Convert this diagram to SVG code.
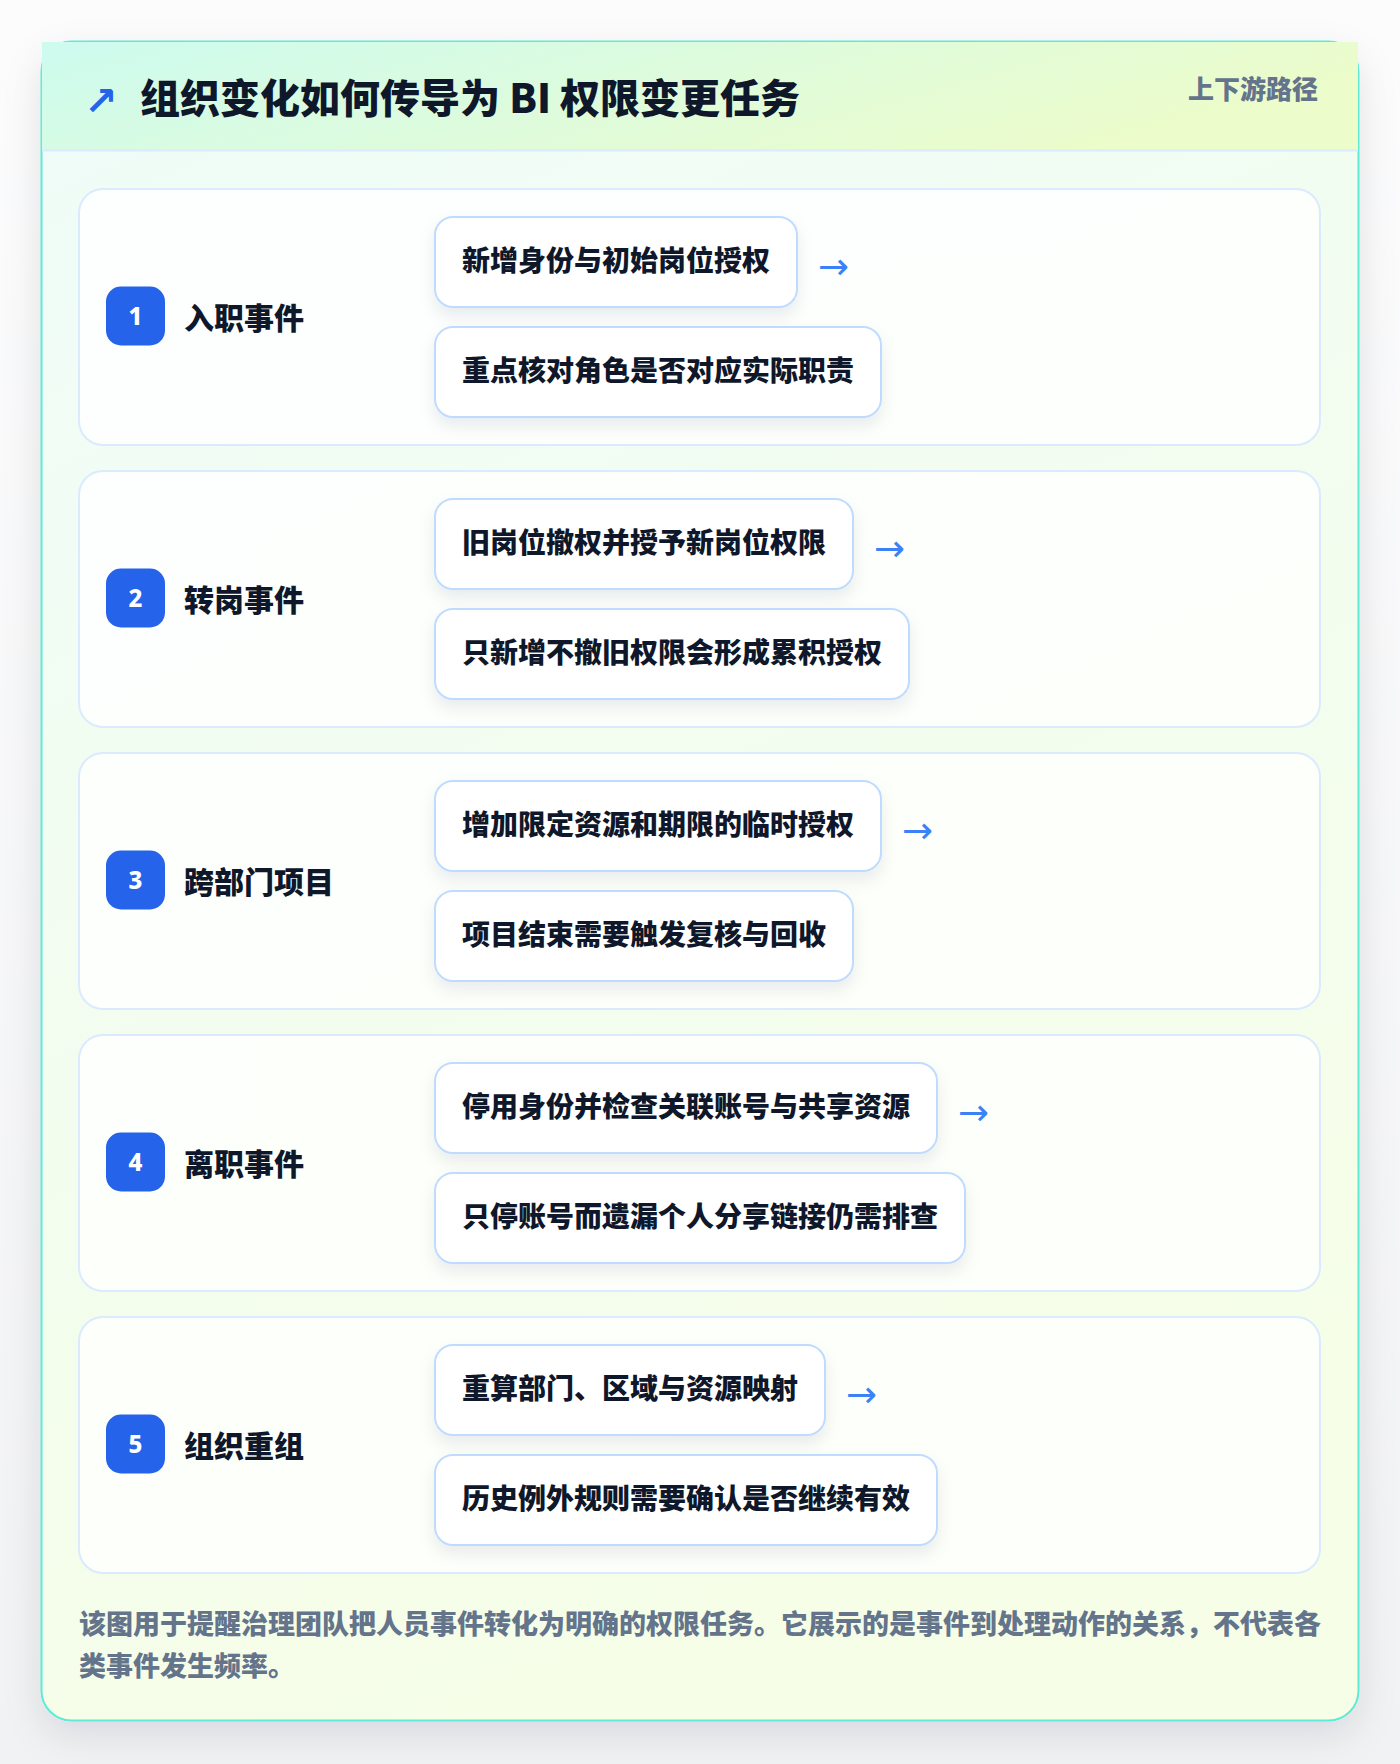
<svg xmlns="http://www.w3.org/2000/svg" width="1400" height="1764" viewBox="0 0 1400 1764">
<defs>
<linearGradient id="pageBg" x1="0" y1="0" x2="0" y2="1">
<stop offset="0" stop-color="#fcfcfd"/>
<stop offset="1" stop-color="#f1f2f4"/>
</linearGradient>
<linearGradient id="bodyBg" x1="0" y1="0" x2="0.35" y2="1">
<stop offset="0" stop-color="#effcf8"/>
<stop offset="1" stop-color="#f6fee8"/>
</linearGradient>
<linearGradient id="headBg" x1="0" y1="0" x2="1" y2="0.3">
<stop offset="0" stop-color="#cdfbef"/>
<stop offset="1" stop-color="#ecfccb"/>
</linearGradient>
<filter id="cardShadow" x="-10%" y="-10%" width="120%" height="120%">
<feDropShadow dx="0" dy="14" stdDeviation="18" flood-color="#0f172a" flood-opacity="0.10"/>
</filter>
<filter id="boxShadow" x="-20%" y="-30%" width="140%" height="180%">
<feDropShadow dx="0" dy="8" stdDeviation="8" flood-color="#1e293b" flood-opacity="0.08"/>
</filter>
<style>
.row{fill:#ffffff;fill-opacity:0.78;stroke:#dbeafe;stroke-width:2}
.box{fill:#ffffff;stroke:#bfdbfe;stroke-width:2}
.badge{fill:#2563eb}
.num{font-family:"Noto Sans","Liberation Sans",sans-serif;font-weight:800;font-size:24px;fill:#ffffff;text-anchor:middle}
.lbl{font-family:"Noto Sans CJK SC","Noto Sans",sans-serif;font-weight:800;font-size:30px;fill:#0f172a}
.btxt{font-family:"Noto Sans CJK SC","Noto Sans",sans-serif;font-weight:800;font-size:28px;fill:#0f172a}
.arr{font-family:"DejaVu Sans",sans-serif;font-size:37px;fill:#3b82f6}
.title{font-family:"Noto Sans CJK SC","Noto Sans",sans-serif;font-weight:900;font-size:40px;fill:#0f172a}
.tag{font-family:"Noto Sans CJK SC","Noto Sans",sans-serif;font-weight:800;font-size:26px;fill:#64748b;text-anchor:end}
.foot{font-family:"Noto Sans CJK SC","Noto Sans",sans-serif;font-weight:800;font-size:27px;fill:#64748b}
</style>
</defs>
<rect x="0" y="0" width="1400" height="1764" fill="url(#pageBg)"/>
<g id="card">
<rect x="41.5" y="41.5" width="1317" height="1679" rx="30" fill="url(#bodyBg)" stroke="#5eead4" stroke-width="2" filter="url(#cardShadow)"/>
<rect x="42" y="42" width="1316" height="108" fill="url(#headBg)"/>
<line x1="42" y1="150.5" x2="1358" y2="150.5" stroke="#dbeafe" stroke-width="2"/>
<text x="84" y="115" font-family="DejaVu Sans, sans-serif" font-weight="700" font-size="40" fill="#2563eb">↗</text>
<text class="title" x="140" y="113">组织变化如何传导为 BI 权限变更任务</text>
<text class="tag" x="1318" y="99">上下游路径</text>
</g>
<g id="node1">
<rect class="row" x="79" y="189" width="1241" height="256" rx="24"/>
<rect class="badge" x="106" y="286.5" width="59" height="59" rx="15"/>
<text class="num" x="135.5" y="325">1</text>
<text class="lbl" x="184" y="329">入职事件</text>
<rect class="box" x="435" y="217" width="362" height="90" rx="18" filter="url(#boxShadow)"/>
<text class="btxt" x="462" y="271">新增身份与初始岗位授权</text>
<rect class="box" x="435" y="327" width="446" height="90" rx="18" filter="url(#boxShadow)"/>
<text class="btxt" x="462" y="381">重点核对角色是否对应实际职责</text>
</g>
<g id="node2">
<rect class="row" x="79" y="471" width="1241" height="256" rx="24"/>
<rect class="badge" x="106" y="568.5" width="59" height="59" rx="15"/>
<text class="num" x="135.5" y="607">2</text>
<text class="lbl" x="184" y="611">转岗事件</text>
<rect class="box" x="435" y="499" width="418" height="90" rx="18" filter="url(#boxShadow)"/>
<text class="btxt" x="462" y="553">旧岗位撤权并授予新岗位权限</text>
<rect class="box" x="435" y="609" width="474" height="90" rx="18" filter="url(#boxShadow)"/>
<text class="btxt" x="462" y="663">只新增不撤旧权限会形成累积授权</text>
</g>
<g id="node3">
<rect class="row" x="79" y="753" width="1241" height="256" rx="24"/>
<rect class="badge" x="106" y="850.5" width="59" height="59" rx="15"/>
<text class="num" x="135.5" y="889">3</text>
<text class="lbl" x="184" y="893">跨部门项目</text>
<rect class="box" x="435" y="781" width="446" height="90" rx="18" filter="url(#boxShadow)"/>
<text class="btxt" x="462" y="835">增加限定资源和期限的临时授权</text>
<rect class="box" x="435" y="891" width="418" height="90" rx="18" filter="url(#boxShadow)"/>
<text class="btxt" x="462" y="945">项目结束需要触发复核与回收</text>
</g>
<g id="node4">
<rect class="row" x="79" y="1035" width="1241" height="256" rx="24"/>
<rect class="badge" x="106" y="1132.5" width="59" height="59" rx="15"/>
<text class="num" x="135.5" y="1171">4</text>
<text class="lbl" x="184" y="1175">离职事件</text>
<rect class="box" x="435" y="1063" width="502" height="90" rx="18" filter="url(#boxShadow)"/>
<text class="btxt" x="462" y="1117">停用身份并检查关联账号与共享资源</text>
<rect class="box" x="435" y="1173" width="530" height="90" rx="18" filter="url(#boxShadow)"/>
<text class="btxt" x="462" y="1227">只停账号而遗漏个人分享链接仍需排查</text>
</g>
<g id="node5">
<rect class="row" x="79" y="1317" width="1241" height="256" rx="24"/>
<rect class="badge" x="106" y="1414.5" width="59" height="59" rx="15"/>
<text class="num" x="135.5" y="1453">5</text>
<text class="lbl" x="184" y="1457">组织重组</text>
<rect class="box" x="435" y="1345" width="390" height="90" rx="18" filter="url(#boxShadow)"/>
<text class="btxt" x="462" y="1399">重算部门、区域与资源映射</text>
<rect class="box" x="435" y="1455" width="502" height="90" rx="18" filter="url(#boxShadow)"/>
<text class="btxt" x="462" y="1509">历史例外规则需要确认是否继续有效</text>
</g>
<g id="connectors">
<text class="arr" x="818" y="279">→</text>
<text class="arr" x="874" y="561">→</text>
<text class="arr" x="902" y="843">→</text>
<text class="arr" x="958" y="1125">→</text>
<text class="arr" x="846" y="1407">→</text>
</g>
<g id="footer">
<text class="foot" x="79" y="1634">该图用于提醒治理团队把人员事件转化为明确的权限任务。它展示的是事件到处理动作的关系，不代表各</text>
<text class="foot" x="79" y="1676">类事件发生频率。</text>
</g>
</svg>
